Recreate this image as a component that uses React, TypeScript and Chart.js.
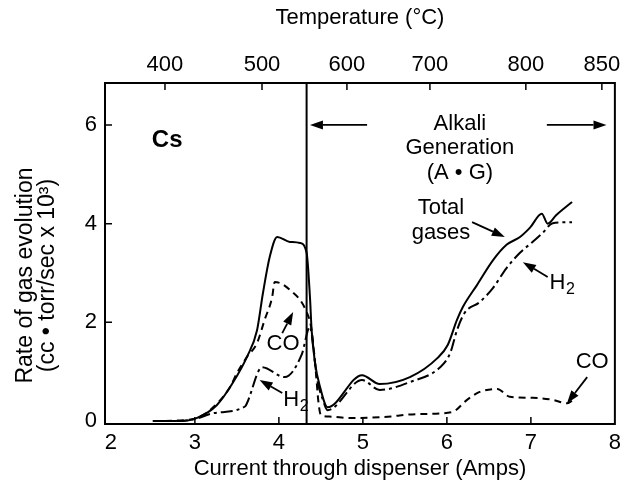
import React, { useEffect, useRef } from "react";
import { Chart, registerables } from "chart.js";

Chart.register(...registerables);

// ---- axes ----
const X_MIN = 1.93;
const X_MAX = 8.0;
const Y_MIN = -0.06;
const Y_MAX = 6.85;
const xTicks = [2, 3, 4, 5, 6, 7, 8];
const yTicks = [0, 2, 4, 6];
const tempLabels = ["400", "500", "600", "700", "800", "850"];
const tempAmps = [2.644, 3.799, 4.81, 5.798, 6.94, 7.845];
const dividerAmps = 4.33;
const yTitleLines = ["Rate of gas evolution", "(cc • torr/sec x 10³)"];

// ---- series (Amps, rate) ----
const totalX = [2.5, 2.82, 3.02, 3.26, 3.45, 3.62, 3.74, 3.81, 3.89, 3.98, 4.13, 4.25, 4.33, 4.37, 4.39, 4.43, 4.49, 4.58, 4.99, 5.2, 5.56, 5.89, 6.01, 6.12, 6.19, 6.36, 6.55, 6.71, 6.87, 6.99, 7.13, 7.2, 7.3, 7.49];
const totalY = [0, 0, 0.06, 0.32, 0.77, 1.3, 1.84, 2.59, 3.32, 3.73, 3.63, 3.61, 3.41, 2.51, 1.84, 1.18, 0.69, 0.28, 0.93, 0.75, 0.89, 1.28, 1.54, 2.05, 2.31, 2.76, 3.26, 3.57, 3.73, 3.92, 4.2, 4.0, 4.17, 4.44];

const h2X = [2.5, 2.82, 3.02, 3.22, 3.6, 3.62, 3.8, 4.07, 4.27, 4.37, 4.41, 4.45, 4.52, 4.58, 4.99, 5.2, 5.56, 5.92, 6.04, 6.12, 6.21, 6.39, 6.55, 6.71, 6.87, 7.02, 7.14, 7.26, 7.49];
const h2Y = [0, 0, 0.05, 0.16, 0.3, 0.36, 1.09, 0.89, 1.34, 1.91, 1.5, 0.9, 0.45, 0.22, 0.83, 0.63, 0.79, 1.09, 1.38, 1.84, 2.19, 2.41, 2.7, 3.1, 3.41, 3.63, 3.81, 4.01, 4.03];

const coX = [2.5, 2.9, 3.02, 3.18, 3.42, 3.5, 3.62, 3.74, 3.83, 3.92, 3.95, 4.13, 4.33, 4.39, 4.44, 4.47, 4.5, 4.6, 4.85, 5.24, 5.64, 6.06, 6.24, 6.39, 6.6, 6.75, 7.02, 7.26, 7.43, 7.49];
const coY = [0, 0.02, 0.06, 0.22, 0.69, 0.97, 1.3, 1.58, 2.05, 2.51, 2.82, 2.66, 2.21, 1.84, 1.0, 0.4, 0.12, 0.09, 0.06, 0.08, 0.14, 0.18, 0.43, 0.59, 0.65, 0.49, 0.47, 0.43, 0.36, 0.41];

// ---- annotations (data units) ----
const FONT = "'Liberation Sans', Arial, Helvetica, sans-serif";
const textNotes = [
  { text: "Cs", x: 2.67, y: 5.68, bold: true, size: 24 },
  { text: "Alkali", x: 6.155, y: 6.03, bold: false, size: 22 },
  { text: "Generation", x: 6.155, y: 5.53, bold: false, size: 22 },
  { text: "(A • G)", x: 6.155, y: 5.03, bold: false, size: 22 },
  { text: "Total", x: 5.93, y: 4.32, bold: false, size: 22 },
  { text: "gases", x: 5.93, y: 3.81, bold: false, size: 22 },
  { text: "CO", x: 7.73, y: 1.2, bold: false, size: 22 },
  { text: "CO", x: 4.05, y: 1.56, bold: false, size: 22 },
];
const h2Notes = [
  { x: 7.37, y: 2.8 },
  { x: 4.2, y: 0.43 },
];
// arrows: tail -> head
const arrows = [
  { x1: 5.05, y1: 6.0, x2: 4.37, y2: 6.0 },
  { x1: 7.19, y1: 6.0, x2: 7.9, y2: 6.0 },
  { x1: 6.3, y1: 4.03, x2: 6.69, y2: 3.73 },
  { x1: 7.2, y1: 2.92, x2: 6.905, y2: 3.22 },
  { x1: 7.67, y1: 0.89, x2: 7.43, y2: 0.36 },
  { x1: 4.04, y1: 1.78, x2: 4.17, y2: 2.21 },
  { x1: 4.04, y1: 0.57, x2: 3.77, y2: 0.83 },
];

const zip = (xs: number[], ys: number[]) => xs.map((x, i) => ({ x, y: ys[i] }));

const overlay = {
  id: "overlay",
  afterDatasetsDraw(chart: any) {
    const { ctx, chartArea: a, scales } = chart;
    const X = (v: number) => scales.x.getPixelForValue(v);
    const Y = (v: number) => scales.y.getPixelForValue(v);
    ctx.save();
    ctx.strokeStyle = "#000";
    ctx.fillStyle = "#000";
    // frame
    ctx.lineWidth = 2;
    ctx.strokeRect(a.left, a.top, a.right - a.left, a.bottom - a.top);
    // inward ticks
    ctx.lineWidth = 1.5;
    ctx.beginPath();
    yTicks.forEach((v) => {
      if (v === 0) return;
      ctx.moveTo(a.left, Y(v));
      ctx.lineTo(a.left + 7, Y(v));
    });
    xTicks.forEach((v) => {
      if (v <= 2 || v >= 8) return;
      ctx.moveTo(X(v), a.bottom);
      ctx.lineTo(X(v), a.bottom - 7);
    });
    tempAmps.forEach((v) => {
      const px = scales.xTop.getPixelForValue(v);
      ctx.moveTo(px, a.top);
      ctx.lineTo(px, a.top + 7);
    });
    ctx.stroke();
    // divider
    ctx.lineWidth = 2;
    ctx.beginPath();
    ctx.moveTo(X(dividerAmps), a.top);
    ctx.lineTo(X(dividerAmps), a.bottom);
    ctx.stroke();
    // arrows
    arrows.forEach((ar) => {
      const x1 = X(ar.x1), y1 = Y(ar.y1), x2 = X(ar.x2), y2 = Y(ar.y2);
      const ang = Math.atan2(y2 - y1, x2 - x1);
      const L = 13, W = 4.5;
      const bx = x2 - L * Math.cos(ang), by = y2 - L * Math.sin(ang);
      ctx.lineWidth = 1.8;
      ctx.beginPath();
      ctx.moveTo(x1, y1);
      ctx.lineTo(bx, by);
      ctx.stroke();
      ctx.beginPath();
      ctx.moveTo(x2, y2);
      ctx.lineTo(bx + W * Math.sin(ang), by - W * Math.cos(ang));
      ctx.lineTo(bx - W * Math.sin(ang), by + W * Math.cos(ang));
      ctx.closePath();
      ctx.fill();
    });
    // texts
    ctx.textAlign = "center";
    ctx.textBaseline = "middle";
    textNotes.forEach((t) => {
      ctx.font = `${t.bold ? "bold " : ""}${t.size}px ${FONT}`;
      ctx.fillText(t.text, X(t.x), Y(t.y));
    });
    h2Notes.forEach((h) => {
      ctx.font = `22px ${FONT}`;
      const wH = ctx.measureText("H").width;
      ctx.font = `16px ${FONT}`;
      const w2 = ctx.measureText("2").width;
      const left = X(h.x) - (wH + w2) / 2;
      ctx.textAlign = "left";
      ctx.font = `22px ${FONT}`;
      ctx.fillText("H", left, Y(h.y));
      ctx.font = `16px ${FONT}`;
      ctx.fillText("2", left + wH + 0.5, Y(h.y) + 7);
      ctx.textAlign = "center";
    });
    // y-axis title (two rotated lines)
    ctx.font = `23px ${FONT}`;
    const cy = (a.top + a.bottom) / 2 + 22;
    yTitleLines.forEach((line, i) => {
      ctx.save();
      ctx.translate(a.left - 79 + i * 22, cy);
      ctx.rotate(-Math.PI / 2);
      ctx.fillText(line, 0, 0);
      ctx.restore();
    });
    ctx.restore();
  },
};

export default function App() {
  const ref = useRef<HTMLCanvasElement>(null);
  useEffect(() => {
    if (!ref.current) return;
    const tickFont = { family: FONT, size: 22 };
    const chart = new Chart(ref.current, {
      type: "line",
      data: {
        datasets: [
          {
            label: "Total gases",
            data: zip(totalX, totalY),
            borderColor: "#000",
            borderWidth: 2,
            pointRadius: 0,
            cubicInterpolationMode: "monotone",
            fill: false,
          },
          {
            label: "H2",
            data: zip(h2X, h2Y),
            borderColor: "#000",
            borderWidth: 2,
            borderDash: [12, 4, 3, 4],
            pointRadius: 0,
            cubicInterpolationMode: "monotone",
            fill: false,
          },
          {
            label: "CO",
            data: zip(coX, coY),
            borderColor: "#000",
            borderWidth: 2,
            borderDash: [7, 5],
            pointRadius: 0,
            cubicInterpolationMode: "monotone",
            fill: false,
          },
        ],
      },
      options: {
        responsive: false,
        animation: false,
        layout: { padding: { left: 0, right: 12, top: 0, bottom: 0 } },
        plugins: { legend: { display: false }, tooltip: { enabled: false } },
        scales: {
          x: {
            type: "linear",
            position: "bottom",
            min: X_MIN,
            max: X_MAX,
            afterBuildTicks: (s: any) => {
              s.ticks = xTicks.map((v) => ({ value: v }));
            },
            afterFit: (s: any) => {
              s.height = 61;
            },
            grid: { display: false, drawTicks: false },
            border: { display: false },
            ticks: { font: tickFont, color: "#000", padding: 6, maxRotation: 0, autoSkip: false, callback: (v: any) => String(v) },
            title: { display: true, text: "Current through dispenser (Amps)", font: tickFont, color: "#000", padding: { top: 0, bottom: 3 } },
          },
          xTop: {
            type: "linear",
            position: "top",
            min: X_MIN,
            max: X_MAX,
            afterBuildTicks: (s: any) => {
              s.ticks = tempAmps.map((v) => ({ value: v }));
            },
            afterFit: (s: any) => {
              s.height = 83;
            },
            grid: { display: false, drawTicks: false },
            border: { display: false },
            ticks: { font: tickFont, color: "#000", padding: 5, maxRotation: 0, autoSkip: false, callback: (_v: any, i: number) => tempLabels[i] },
            title: { display: true, text: "Temperature (°C)", font: tickFont, color: "#000", padding: { top: 5, bottom: 0 } },
          },
          y: {
            type: "linear",
            min: Y_MIN,
            max: Y_MAX,
            afterBuildTicks: (s: any) => {
              s.ticks = yTicks.map((v) => ({ value: v }));
            },
            afterFit: (s: any) => {
              s.width = 105;
            },
            grid: { display: false, drawTicks: false },
            border: { display: false },
            ticks: { font: tickFont, color: "#000", padding: 8, callback: (v: any) => String(v) },
            title: { display: false },
          },
        },
      },
      plugins: [overlay],
    } as any);
    return () => chart.destroy();
  }, []);
  return (
    <div style={{ position: "fixed", left: 0, top: 0, width: 627, height: 485, background: "#fff" }}>
      <canvas ref={ref} width={627} height={485} style={{ width: 627, height: 485, display: "block" }} />
    </div>
  );
}
